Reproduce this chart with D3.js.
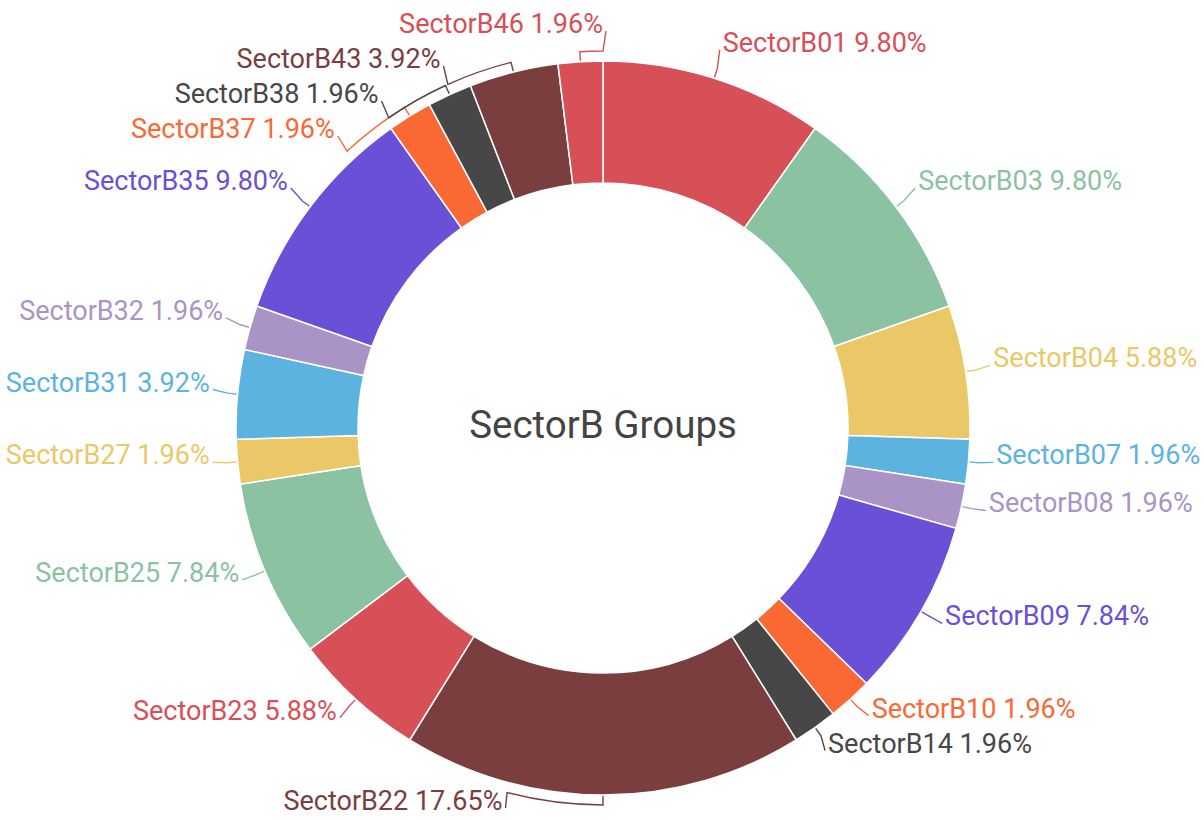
<!DOCTYPE html>
<html>
<head>
<meta charset="utf-8">
<script src="https://cdn.jsdelivr.net/npm/d3@7"></script>
<style>
	html, body { margin: 0; background: #fff; }
	svg { display: block; font-family: Roboto, "Noto Sans", sans-serif; }
</style>
</head>
<body>
<div id="chart"></div>
<script>

const categories = ["SectorB01", "SectorB03", "SectorB04", "SectorB07", "SectorB08", "SectorB09", "SectorB10",
	"SectorB14", "SectorB22", "SectorB23", "SectorB25", "SectorB27", "SectorB31", "SectorB32", "SectorB35",
	"SectorB37", "SectorB38", "SectorB43", "SectorB46"];

const shares = [9.80, 9.80, 5.88, 1.96, 1.96, 7.84, 1.96, 1.96, 17.65, 5.88, 7.84, 1.96, 3.92, 1.96, 9.80,
	1.96, 1.96, 3.92, 1.96];

const palette = ["#d75058", "#8bc2a1", "#ebc867", "#5db3e0", "#a994c5", "#6a50d7", "#fa6834", "#474747", "#7a3e3f"];

const title = "SectorB Groups";

const width = 1204, height = 820;
const cx = 603, cy = 428;
const outerR = 367, innerR = 245;
const tickR = outerR + 10, labelR = outerR + 28;
const fontSize = 27, labelGap = 35;
const minY = 33, maxY = 810;

const color = d3.scaleOrdinal().domain(categories).range(palette);
const fmt = d3.format(".2f");

const svg = d3.select("#chart")
	.append("svg")
	.attr("width", width)
	.attr("height", height);

const g = svg.append("g").attr("transform", `translate(${cx},${cy})`);

const pie = d3.pie().sort(null).value((d) => d.value);
const arc = d3.arc().innerRadius(innerR).outerRadius(outerR);

const arcs = pie(categories.map((c, i) => ({ name: c, value: shares[i] })));

g.selectAll("path.slice")
	.data(arcs)
	.join("path")
		.attr("class", "slice")
		.attr("d", arc)
		.attr("fill", (d) => color(d.data.name))
		.attr("stroke", "#fff")
		.attr("stroke-width", 1.5);

// label layout (y in page coordinates while spreading, baseline = anchor)
function polar(a, r){
	return [Math.sin(a) * r, -Math.cos(a) * r];
}

const labels = arcs.map((d) => {
	const mid = (d.startAngle + d.endAngle) / 2;
	const [, ly] = polar(mid, labelR);
	return {
		d: d,
		mid: mid,
		// the bottom-most slice folds its label over to the left
		side: mid < Math.PI * 0.97 ? 1 : -1,
		y: Math.max(minY, Math.min(maxY, cy + ly))
	};
});

function spread(items){
	items.sort((a, b) => a.y - b.y);
	let groups = items.map((it) => ({ items: [it], mean: it.y }));
	const top = (gr) => {
		const n = gr.items.length;
		const t = gr.mean - (n - 1) * labelGap / 2;
		return Math.max(minY, Math.min(maxY - (n - 1) * labelGap, t));
	};
	let merged = true;
	while( merged ){
		merged = false;
		for( let i = 0; i < groups.length - 1; i++ ){
			const a = groups[i], b = groups[i + 1];
			if( top(b) < top(a) + a.items.length * labelGap ){
				const all = a.items.concat(b.items);
				groups.splice(i, 2, { items: all, mean: d3.mean(all, (it) => it.y) });
				merged = true;
				break;
			}
		}
	}
	groups.forEach((gr) => {
		const t = top(gr);
		gr.items.forEach((it, k) => { it.y = t + k * labelGap; });
	});
}

spread(labels.filter((l) => l.side > 0));
spread(labels.filter((l) => l.side < 0));

labels.forEach((l) => {
	l.ry = l.y - cy;
	l.x = l.side * Math.sqrt(Math.max(0, labelR * labelR - l.ry * l.ry));
	let placed = Math.atan2(l.x, -l.ry);
	if( placed < 0 ) placed += 2 * Math.PI;
	if( l.mid - placed > Math.PI ) placed += 2 * Math.PI;
	if( placed - l.mid > Math.PI ) placed -= 2 * Math.PI;
	l.placed = placed;
});

function leader(l){
	const p = d3.path();
	const [x0, y0] = polar(l.mid, outerR + 1);
	const [x1, y1] = polar(l.mid, tickR);
	p.moveTo(x0, y0);
	p.lineTo(x1, y1);
	// label slid along the ring: follow the ring with a bracket
	if( Math.abs(l.placed - l.mid) > 0.01 ){
		p.arc(0, 0, tickR, l.mid - Math.PI / 2, l.placed - Math.PI / 2, l.placed < l.mid);
	}
	p.lineTo(l.x - l.side * 3, l.ry - 2);
	return p.toString();
}

g.selectAll("path.leader")
	.data(labels)
	.join("path")
		.attr("class", "leader")
		.attr("fill", "none")
		.attr("stroke", (l) => color(l.d.data.name))
		.attr("stroke-width", 1.4)
		.attr("d", leader);

g.selectAll("text.label")
	.data(labels)
	.join("text")
		.attr("class", "label")
		.attr("x", (l) => l.x)
		.attr("y", (l) => l.ry)
		.attr("text-anchor", (l) => l.side > 0 ? "start" : "end")
		.attr("font-size", fontSize)
		.attr("fill", (l) => color(l.d.data.name))
		.text((l) => `${l.d.data.name} ${fmt(l.d.data.value)}%`);

g.append("text")
	.attr("text-anchor", "middle")
	.attr("y", 10)
	.attr("font-size", 38.5)
	.attr("fill", "#444")
	.text(title);

</script>
</body>
</html>
